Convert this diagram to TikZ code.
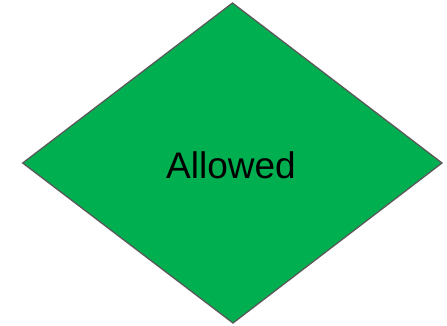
\documentclass[tikz,border=0pt]{standalone}
\usepackage{fontspec}
\setmainfont{Liberation Sans}
\definecolor{fillgreen}{HTML}{00B050}
\definecolor{edgegray}{HTML}{595959}
\begin{document}
\begin{tikzpicture}[x=1pt,y=-1pt,
  diamondshape/.style={fill=fillgreen,draw=edgegray,line width=1.3pt,line join=miter},
  labeltext/.style={font=\fontsize{37}{40}\selectfont,text=black,inner sep=0pt}]
\useasboundingbox (0,0) rectangle (447,325);
\coordinate (top) at (232.5,3);
\coordinate (left) at (22.7,163);
\coordinate (right) at (442,163);
\coordinate (bottom) at (233,323);
\draw[diamondshape] (top) -- (right) -- (bottom) -- (left) -- cycle;
\node[labeltext,anchor=base] (lbl) at (231,178.3) {Allowed};
\end{tikzpicture}
\end{document}
